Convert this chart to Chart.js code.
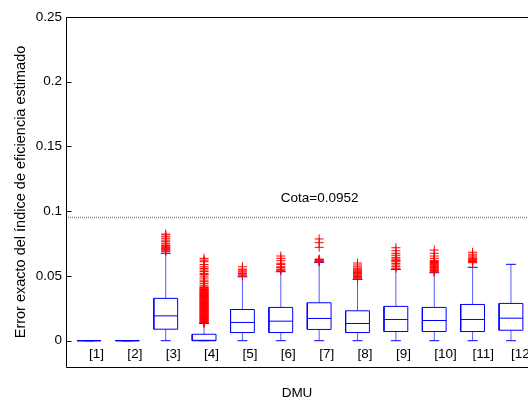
<!DOCTYPE html>
<html>
<head>
<meta charset="utf-8">
<title>Error exacto del índice de eficiencia estimado</title>
<script src="https://cdn.jsdelivr.net/npm/chart.js@4.4.0/dist/chart.umd.min.js"></script>
<style>
  html, body { margin: 0; padding: 0; background: #fff; overflow: hidden; }
  canvas { display: block; }
</style>
</head>
<body>
<canvas id="chart" width="528" height="402"></canvas>
<script>
// ---- data -------------------------------------------------------------
const dmuLabels = ['[1]', '[2]', '[3]', '[4]', '[5]', '[6]', '[7]', '[8]', '[9]', '[10]', '[11]', '[12]'];

const whiskerLow  = [0, 0, 0, 0, 0, 0, 0, 0, 0, 0, 0, 0];
const quartile1   = [0, 0, 0.0089, 0, 0.0063, 0.0063, 0.0087, 0.0063, 0.0071, 0.0071, 0.0071, 0.0081];
const medians     = [0, 0, 0.0192, 0.0003, 0.0141, 0.0151, 0.0172, 0.0133, 0.0164, 0.0156, 0.0164, 0.0174];
const quartile3   = [0, 0, 0.0327, 0.0050, 0.0241, 0.0257, 0.0293, 0.0231, 0.0265, 0.0257, 0.0280, 0.0288];
const whiskerHigh = [0, 0, 0.0675, 0.0133, 0.0494, 0.0533, 0.0605, 0.0474, 0.0551, 0.0525, 0.0567, 0.0590];

const outliers1  = [];
const outliers2  = [];
const outliers3  = [0.0688, 0.0694, 0.0701, 0.0706, 0.0713, 0.0721, 0.0726, 0.0734, 0.0739, 0.0752, 0.0765, 0.0777, 0.0791, 0.0803, 0.0817, 0.0824];
const outliers4  = [0.0136, 0.0139, 0.0143, 0.0146, 0.0150, 0.0153, 0.0157, 0.0161, 0.0164, 0.0168, 0.0171, 0.0175, 0.0179, 0.0182, 0.0186, 0.0190,
                    0.0193, 0.0197, 0.0200, 0.0204, 0.0208, 0.0211, 0.0215, 0.0219, 0.0222, 0.0226, 0.0229, 0.0233, 0.0237, 0.0240, 0.0244, 0.0248,
                    0.0251, 0.0255, 0.0258, 0.0262, 0.0266, 0.0269, 0.0273, 0.0277, 0.0280, 0.0284, 0.0287, 0.0291, 0.0295, 0.0298, 0.0302, 0.0306,
                    0.0309, 0.0313, 0.0316, 0.0320, 0.0324, 0.0327, 0.0331, 0.0335, 0.0338, 0.0342, 0.0345, 0.0349, 0.0353, 0.0356, 0.0360, 0.0364,
                    0.0367, 0.0371, 0.0374, 0.0378, 0.0382, 0.0385, 0.0389, 0.0393, 0.0396, 0.0401, 0.0406, 0.0411, 0.0416, 0.0429, 0.0443, 0.0456,
                    0.0468, 0.0484, 0.0499, 0.0512, 0.0520, 0.0534, 0.0546, 0.0558, 0.0571, 0.0588, 0.0610, 0.0622, 0.0636];
const outliers5  = [0.0500, 0.0507, 0.0515, 0.0520, 0.0530, 0.0538, 0.0546, 0.0553, 0.0571];
const outliers6  = [0.0540, 0.0548, 0.0553, 0.0565, 0.0571, 0.0588, 0.0598, 0.0618, 0.0636, 0.0654];
const outliers7  = [0.0609, 0.0613, 0.0617, 0.0622, 0.0626, 0.0631, 0.0721, 0.0757, 0.0786];
const outliers8  = [0.0478, 0.0484, 0.0490, 0.0496, 0.0502, 0.0508, 0.0515, 0.0520, 0.0526, 0.0532, 0.0538, 0.0545, 0.0552, 0.0560, 0.0571, 0.0585, 0.0600];
const outliers9  = [0.0560, 0.0572, 0.0585, 0.0597, 0.0610, 0.0618, 0.0623, 0.0632, 0.0644, 0.0660, 0.0675, 0.0695, 0.0718];
const outliers10 = [0.0530, 0.0536, 0.0542, 0.0548, 0.0554, 0.0560, 0.0566, 0.0572, 0.0578, 0.0584, 0.0590, 0.0597, 0.0604, 0.0612, 0.0620, 0.0636, 0.0654, 0.0675, 0.0700];
const outliers11 = [0.0602, 0.0607, 0.0612, 0.0620, 0.0628, 0.0636, 0.0645, 0.0655, 0.0668, 0.0683];
const outliers12 = [];
const outlierGroups = [outliers1, outliers2, outliers3, outliers4, outliers5, outliers6,
                       outliers7, outliers8, outliers9, outliers10, outliers11, outliers12];

const cota = 0.0952;
const yTicks = [0, 0.05, 0.1, 0.15, 0.2, 0.25];
const yTickLabels = ['0', '0.05', '0.1', '0.15', '0.2', '0.25'];

// ---- styling / geometry ------------------------------------------------
const FONT = "'Liberation Sans', Arial, Helvetica, sans-serif";
const BLUE = '#0000ff';
const BOX_HALF = 0.31;   // half box width, in DMU units
const CAP_HALF = 0.13;   // half whisker-cap width, in DMU units
// the axis runs from 0.4 to 12.6; the canvas shows it up to about 12.44
const X_MIN = 0.4, X_MAX = 12.444;
const Y_MIN = -0.0203, Y_MAX = 0.25;

// ---- build line segments from the statistics ---------------------------
const pos = dmuLabels.map((_, i) => i + 1);
function gap(x) { return { x: x, y: null }; }

const boxPts = [], medianPts = [], whiskerPts = [], capPts = [], outlierPts = [];
pos.forEach((p, i) => {
  const l = p - BOX_HALF, r = p + BOX_HALF;
  boxPts.push({x: l, y: quartile1[i]}, {x: r, y: quartile1[i]}, {x: r, y: quartile3[i]},
              {x: l, y: quartile3[i]}, {x: l, y: quartile1[i]}, gap(l));
  medianPts.push({x: l, y: medians[i]}, {x: r, y: medians[i]}, gap(r));
  whiskerPts.push({x: p, y: quartile3[i]}, {x: p, y: whiskerHigh[i]}, gap(p),
                  {x: p, y: whiskerLow[i]}, {x: p, y: quartile1[i]}, gap(p));
  capPts.push({x: p - CAP_HALF, y: whiskerHigh[i]}, {x: p + CAP_HALF, y: whiskerHigh[i]}, gap(p),
              {x: p - CAP_HALF, y: whiskerLow[i]}, {x: p + CAP_HALF, y: whiskerLow[i]}, gap(p));
  outlierGroups[i].forEach(v => outlierPts.push({x: p, y: v}));
});

const lineDs = (data, color, extra) => Object.assign({
  data: data, showLine: true, borderColor: color, borderWidth: 1,
  pointRadius: 0, spanGaps: false, fill: false
}, extra || {});

// frame, inner tick marks, DMU labels and the threshold annotation
const boxplotDecor = {
  id: 'boxplotDecor',
  afterDatasetsDraw(chart) {
    const {ctx, chartArea: a, scales: {x, y}} = chart;
    ctx.save();
    ctx.strokeStyle = '#000';
    ctx.lineWidth = 1;
    const L = Math.round(a.left) + 0.5, T = Math.round(a.top) + 0.5,
          B = Math.round(a.bottom) + 0.5, R = a.right + 1;
    ctx.beginPath();
    ctx.moveTo(R, T); ctx.lineTo(L, T); ctx.lineTo(L, B); ctx.lineTo(R, B);
    ctx.stroke();
    // inward ticks on the value axis
    ctx.beginPath();
    yTicks.forEach(v => {
      const py = Math.round(y.getPixelForValue(v)) + 0.5;
      ctx.moveTo(L, py); ctx.lineTo(L + 5, py);
    });
    ctx.stroke();
    // DMU labels start at each box centre, just below the zero line
    ctx.fillStyle = '#000';
    ctx.font = '13.5px ' + FONT;
    ctx.textAlign = 'left';
    ctx.textBaseline = 'middle';
    const labelY = y.getPixelForValue(0) + 14;
    dmuLabels.forEach((lab, i) => ctx.fillText(lab, x.getPixelForValue(pos[i]), labelY));
    // threshold label
    ctx.fillText('Cota=' + cota, x.getPixelForValue(6), y.getPixelForValue(0.11));
    ctx.restore();
  }
};

new Chart(document.getElementById('chart'), {
  type: 'scatter',
  data: {
    datasets: [
      { data: outlierPts, showLine: false, pointStyle: 'cross', pointRadius: 4.5,
        pointBorderColor: '#ff0000', pointBackgroundColor: '#ff0000', pointBorderWidth: 1, order: 0 },
      lineDs(medianPts, BLUE, { order: 1 }),
      lineDs(boxPts, BLUE, { order: 2 }),
      lineDs(capPts, BLUE, { order: 3 }),
      lineDs(whiskerPts, '#5a5aff', { order: 4 }),
      lineDs([{x: X_MIN, y: cota}, {x: X_MAX, y: cota}], '#8a8a8a', { borderDash: [1, 1], borderWidth: 1.5, order: 5 })
    ]
  },
  options: {
    responsive: false,
    animation: false,
    devicePixelRatio: 1,
    layout: { autoPadding: false, padding: { top: 17, left: 0, right: 0, bottom: 0 } },
    plugins: { legend: { display: false }, tooltip: { enabled: false } },
    elements: { line: { tension: 0 } },
    scales: {
      x: {
        type: 'linear', min: X_MIN, max: X_MAX,
        grid: { display: false, drawTicks: false },
        border: { display: false },
        ticks: { display: false },
        title: { display: true, text: 'DMU', color: '#000',
                 font: { family: FONT, size: 13.5, lineHeight: 1.2 }, padding: { top: 0, bottom: 1 } },
        afterFit(scale) { scale.height = 35; scale.paddingLeft = 0; scale.paddingRight = 0; }
      },
      y: {
        type: 'linear', min: Y_MIN, max: Y_MAX,
        grid: { display: false, drawTicks: false },
        border: { display: false },
        ticks: {
          includeBounds: false, padding: 4, color: '#000',
          font: { family: FONT, size: 13.5 },
          callback: (v, i) => yTickLabels[i]
        },
        afterBuildTicks(scale) { scale.ticks = yTicks.map(v => ({ value: v })); },
        title: { display: true, text: 'Error exacto del índice de eficiencia estimado', color: '#000',
                 font: { family: FONT, size: 14.5, lineHeight: 1.2 }, padding: { top: 12, bottom: 0 } },
        afterFit(scale) { scale.width = 66; scale.paddingTop = 0; scale.paddingBottom = 0; }
      }
    }
  },
  plugins: [boxplotDecor]
});
</script>
</body>
</html>
